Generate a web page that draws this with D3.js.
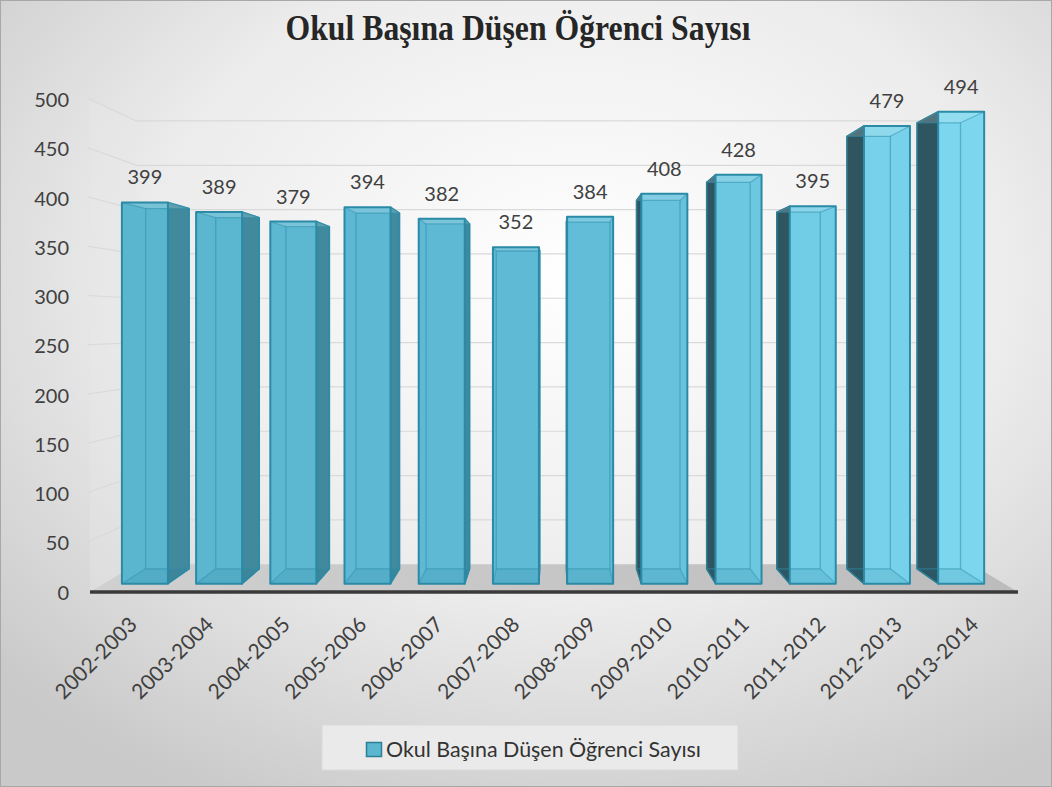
<!DOCTYPE html>
<html>
<head>
<meta charset="utf-8">
<script src="https://cdn.jsdelivr.net/npm/d3@7"></script>
<style>
  html, body { margin: 0; padding: 0; background: #fff; }
  svg { display: block; }
</style>
</head>
<body>
<svg id="chart" width="1052" height="787"></svg>
<script>
// ---------------- data ----------------
const chartTitle = "Okul Başına Düşen Öğrenci Sayısı";
const seriesName = "Okul Başına Düşen Öğrenci Sayısı";
const categories = ["2002-2003","2003-2004","2004-2005","2005-2006","2006-2007","2007-2008",
                    "2008-2009","2009-2010","2010-2011","2011-2012","2012-2013","2013-2014"];
const values = [399, 389, 379, 394, 382, 352, 384, 408, 428, 395, 479, 494];
const yTicks = [0, 50, 100, 150, 200, 250, 300, 350, 400, 450, 500];

// ---------------- layout ----------------
const W = 1052, H = 787;
const svg = d3.select("#chart");
const defs = svg.append("defs");

const VP = [554, 314];           // vanishing point
const kFront = 0.97, kBack = 0.97 * 0.945, kWall = 0.9;
const proj = (X, Y, k) => [VP[0] + (X - VP[0]) * k, VP[1] + (Y - VP[1]) * k];

const x = d3.scaleBand().domain(categories).range([94, 1012]).paddingInner(0.38).paddingOuter(0.19);
const y = d3.scaleLinear().domain([0, 500]).range([592, 99.5]);
const axisL = 90, axisR = 1018;

// background
const bg = defs.append("radialGradient").attr("id", "bg").attr("cx", "55%").attr("cy", "35%").attr("r", "75%");
bg.append("stop").attr("offset", "0%").attr("stop-color", "#ffffff");
bg.append("stop").attr("offset", "55%").attr("stop-color", "#ececec");
bg.append("stop").attr("offset", "100%").attr("stop-color", "#c9c9c9");
svg.append("rect").attr("x", 0.5).attr("y", 0.5).attr("width", W - 1).attr("height", H - 1)
  .attr("fill", "url(#bg)").attr("stroke", "#a8a8a8").attr("stroke-width", 1);

// title
svg.append("text").attr("x", 518).attr("y", 40).attr("text-anchor", "middle")
  .attr("font-family", "Liberation Serif, Times New Roman, serif").attr("font-weight", "bold")
  .attr("font-size", 35).attr("fill", "#262626")
  .attr("textLength", 465).attr("lengthAdjust", "spacingAndGlyphs")
  .text(chartTitle);

// walls & gridlines
const gGrid = svg.append("g");
const wl = (v) => proj(axisL, y(v), kWall);
const wr = (v) => proj(axisR, y(v), kWall);
gGrid.append("path")
  .attr("d", d3.line()([[axisL, y(500)], wl(500), wl(0), [axisL, y(0)]]))
  .attr("fill", "#e9e9e9").attr("opacity", 0.35);
yTicks.forEach(v => {
  if (v === 0) return;
  gGrid.append("path").attr("d", d3.line()([[axisL - 2, y(v) - 1], wl(v), wr(v)]))
    .attr("fill", "none").attr("stroke", "#d9d9d9").attr("stroke-width", 1.2);
});

// floor
const fl = wl(0), fr = wr(0);
const floorGrad = defs.append("linearGradient").attr("id", "floor").attr("x1", 0).attr("x2", 1).attr("y1", 0).attr("y2", 0);
floorGrad.append("stop").attr("offset", "0%").attr("stop-color", "#d0d0d0");
floorGrad.append("stop").attr("offset", "100%").attr("stop-color", "#bcbcbc");
svg.append("path")
  .attr("d", d3.line()([[axisL, y(0)], [axisR, y(0)], fr, fl]) + "Z")
  .attr("fill", "url(#floor)");
svg.append("line").attr("x1", axisL).attr("x2", axisR).attr("y1", y(0)).attr("y2", y(0))
  .attr("stroke", "#3a3a3a").attr("stroke-width", 3.5);

// y axis labels
const yAxis = d3.axisLeft(y).tickValues(yTicks).tickSize(0).tickPadding(0);
const gy = svg.append("g").attr("transform", "translate(69,0)").call(yAxis);
gy.select(".domain").remove();
gy.selectAll("text").attr("font-family", "Lato, Open Sans, sans-serif").attr("font-size", 20)
  .attr("fill", "#404040").attr("dy", "0.36em");

// x axis labels
const xAxis = d3.axisBottom(x).tickSize(0).tickPadding(0);
const gx = svg.append("g").call(xAxis);
gx.select(".domain").remove();
gx.selectAll("text").attr("font-family", "Lato, Open Sans, sans-serif").attr("font-size", 21)
  .attr("fill", "#404040").attr("text-anchor", "end")
  .attr("y", 0).attr("dy", 0)
  .attr("transform", "translate(6,626) rotate(-45)");

// bars
const frontColor = d3.scaleLinear().domain([90, 554, 1018]).range(["#59b4ce", "#5fbbd6", "#7fd9f1"]);
const gBars = svg.append("g");
const poly = (pts) => d3.line()(pts) + "Z";
categories.forEach((c, i) => {
  const v = values[i];
  const X0 = x(c), X1 = X0 + x.bandwidth();
  const Yt = y(v), Yb = y(0);
  const F = [proj(X0, Yt, kFront), proj(X1, Yt, kFront), proj(X1, Yb, kFront), proj(X0, Yb, kFront)];
  const B = [proj(X0, Yt, kBack), proj(X1, Yt, kBack), proj(X1, Yb, kBack), proj(X0, Yb, kBack)];
  const cx = (X0 + X1) / 2;
  const g = gBars.append("g");
  const outline = "#2b8aa6";
  if (cx < VP[0]) {
    g.append("path").attr("d", poly([F[1], B[1], B[2], F[2]]))
      .attr("fill", "#41899c").attr("stroke", outline).attr("stroke-width", 1.5).attr("stroke-linejoin", "round");
  } else {
    g.append("path").attr("d", poly([F[0], B[0], B[3], F[3]]))
      .attr("fill", "#2e5560").attr("stroke", "#2b6f82").attr("stroke-width", 1.5).attr("stroke-linejoin", "round");
  }
  const fc = frontColor(cx);
  g.append("path").attr("d", poly(F)).attr("fill", fc);
  g.append("path").attr("d", poly([F[0], F[1], B[1], B[0]])).attr("fill", "#ffffff").attr("opacity", 0.18);
  g.append("path").attr("d", poly([F[3], F[2], B[2], B[3]])).attr("fill", "#1f6c82").attr("opacity", 0.12);
  g.append("path").attr("d", poly(B)).attr("fill", "none").attr("stroke", "#2f8fab")
    .attr("stroke-width", 1.3).attr("opacity", 0.55);
  g.append("path").attr("d", d3.line()([F[0], B[0]]) + d3.line()([F[1], B[1]]) + d3.line()([F[2], B[2]]) + d3.line()([F[3], B[3]]))
    .attr("fill", "none").attr("stroke", "#2f8fab").attr("stroke-width", 1.2).attr("opacity", 0.5);
  g.append("path").attr("d", poly(F)).attr("fill", "none").attr("stroke", outline)
    .attr("stroke-width", 2).attr("stroke-linejoin", "round");
  g.append("text").attr("x", (F[0][0] + F[1][0]) / 2).attr("y", F[0][1] - 18)
    .attr("text-anchor", "middle").attr("font-family", "Lato, Open Sans, sans-serif")
    .attr("font-size", 20).attr("fill", "#404040").text(v);
});

// legend
const lg = svg.append("g");
lg.append("rect").attr("x", 322).attr("y", 725).attr("width", 416).attr("height", 45)
  .attr("fill", "#eaeaea").attr("stroke", "#dadada");
lg.append("rect").attr("x", 366.5).attr("y", 742.5).attr("width", 15).attr("height", 14)
  .attr("fill", "#5bb6d0").attr("stroke", "#2b7f97").attr("stroke-width", 1.5);
lg.append("text").attr("x", 386).attr("y", 757).attr("font-family", "Lato, Open Sans, sans-serif")
  .attr("font-size", 21).attr("fill", "#333333")
  .attr("textLength", 315).attr("lengthAdjust", "spacingAndGlyphs").text(seriesName);
</script>
</body>
</html>
